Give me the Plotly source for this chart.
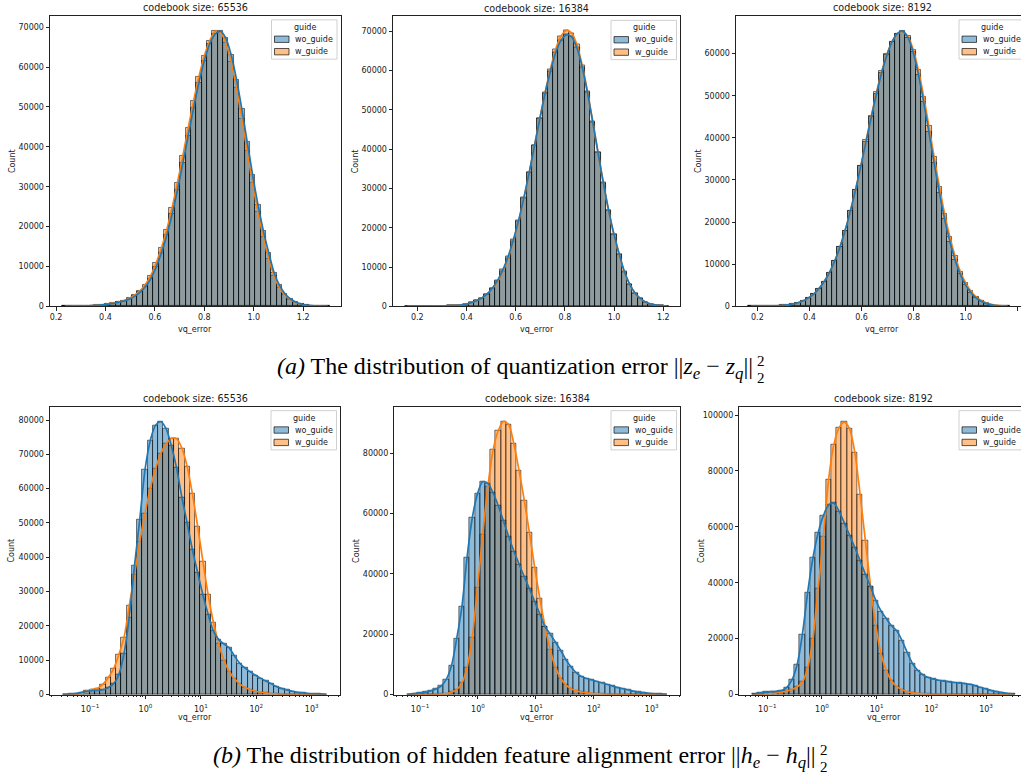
import numpy as np
import plotly.graph_objects as go

W, H = 1021, 778

# ---------------- data ----------------
panel_titles = ["codebook size: 65536", "codebook size: 16384", "codebook size: 8192",
                "codebook size: 65536", "codebook size: 16384", "codebook size: 8192"]
series_names = ["wo_guide", "w_guide"]
legend_title = "guide"
x_label = "vq_error"
y_label = "Count"
caption_a = "<i>(a)</i> The distribution of quantization error ||<i>z</i><sub><i>e</i></sub> − <i>z</i><sub><i>q</i></sub>||"
caption_b = "<i>(b)</i> The distribution of hidden feature alignment error ||<i>h</i><sub><i>e</i></sub> − <i>h</i><sub><i>q</i></sub>||"
norm_marks = ["2", "2"]

n_bins = 50
# top row: bin range of vq_error; bottom row: bin range of log10(vq_error)
t1_bins = [0.225, 1.31]
t2_bins = [0.15, 1.225]
t3_bins = [0.165, 1.17]
b1_bins = [-1.48, 3.27]
b2_bins = [-1.22, 3.27]
b3_bins = [-1.27, 3.53]

t1_wo = [8, 15, 30, 50, 90, 150, 230, 350, 500, 700,
         1000, 1300, 1800, 2500, 3500, 4900, 6900, 9800, 13400, 17800,
         23100, 29200, 35900, 42800, 49700, 56100, 61600, 65800, 68300, 69000,
         67300, 63100, 56900, 49400, 41200, 33000, 25500, 19000, 13500, 8500,
         5300, 3200, 1900, 1100, 600, 300, 150, 70, 30, 10]
t1_w = [10, 19, 36, 61, 107, 172, 264, 392, 556, 784,
        1084, 1440, 2000, 2780, 3890, 5460, 7710, 10810, 14630, 19280,
        24810, 31080, 37830, 44730, 51490, 57640, 62780, 66500, 69000, 68700,
        66120, 61360, 54800, 47100, 38900, 30900, 23700, 17460, 11960, 7600,
        4710, 2840, 1680, 960, 516, 258, 128, 59, 24, 8]

t2_wo = [2, 3, 5, 8, 15, 25, 40, 70, 120, 200,
         330, 550, 900, 1400, 2100, 3100, 4600, 6600, 9300, 12700,
         17000, 22000, 27800, 34200, 41000, 47800, 54300, 59900, 64600, 67700,
         69100, 68600, 65800, 60900, 54400, 46900, 39100, 31500, 24500, 18400,
         13300, 8800, 5600, 3400, 2000, 1100, 600, 300, 120, 50]
t2_w = [2, 3, 5, 8, 15, 25, 40, 70, 120, 200,
        330, 550, 900, 1400, 2100, 3100, 4500, 6300, 8900, 12300,
        16600, 21700, 27600, 34100, 41000, 47900, 54500, 60400, 65500, 68800,
        70200, 69600, 66600, 61400, 54700, 47000, 39100, 31400, 24300, 18200,
        13100, 8600, 5500, 3300, 1900, 1050, 570, 280, 110, 45]

t3_wo = [6, 12, 25, 45, 80, 130, 220, 350, 550, 850,
         1300, 2000, 2900, 4200, 5900, 8000, 10700, 14000, 18000, 22600,
         27700, 33300, 39100, 44900, 50500, 55500, 59700, 62900, 64800, 65300,
         63800, 60300, 55000, 48500, 41300, 34000, 27000, 20700, 15400, 11000,
         7600, 5100, 3300, 2000, 1200, 650, 350, 170, 80, 30]
t3_w = [6, 12, 25, 45, 80, 130, 220, 350, 550, 850,
        1300, 2000, 2900, 4200, 5900, 8000, 10700, 14000, 18000, 22600,
        27700, 33300, 39400, 45200, 50800, 55800, 59900, 62900, 64700, 65200,
        64100, 61000, 56060, 49800, 42740, 35460, 28400, 21960, 16460, 11880,
        8280, 5600, 3660, 2260, 1360, 760, 410, 206, 98, 40]

b1_wo = [50, 150, 350, 600, 950, 1150, 1200, 1400, 2000, 3100,
         5700, 11800, 22500, 37500, 51000, 65500, 74000, 78500, 79500, 77500,
         72500, 66000, 57500, 50000, 42200, 35500, 29000, 23300, 18500, 16000,
         14700, 13600, 11200, 9100, 7700, 6600, 5600, 4700, 3900, 3100,
         2300, 1700, 1300, 950, 650, 450, 300, 200, 120, 60]
b1_w = [0, 0, 0, 300, 1000, 1500, 1800, 3000, 4900, 7400,
        11500, 16500, 25800, 35000, 44500, 52800, 60000, 65800, 70200, 73000,
        74700, 74500, 71800, 66500, 58500, 49000, 38800, 29000, 21000, 14800,
        10000, 6700, 4600, 3100, 2100, 1400, 950, 650, 400, 250,
        150, 90, 50, 30, 15, 8, 4, 2, 1, 0]

b2_wo = [100, 300, 550, 800, 1200, 1800, 2800, 5000, 9500, 18500,
         29000, 45500, 58500, 66500, 70500, 70000, 66800, 62500, 57500, 52300,
         47500, 43200, 39000, 35000, 30800, 26600, 22400, 20000, 17300, 14600,
         11500, 9100, 7200, 6000, 5300, 4800, 4300, 3800, 3300, 2800,
         2300, 1900, 1500, 1100, 800, 600, 400, 250, 130, 60]
b2_w = [0, 0, 0, 0, 0, 50, 120, 300, 800, 1600,
        3800, 9000, 19000, 35500, 53000, 69000, 81000, 87500, 90500, 89500,
        83000, 74200, 64300, 53500, 42100, 31700, 22500, 14800, 9000, 5400,
        3200, 1900, 1200, 800, 550, 350, 230, 150, 90, 60,
        35, 20, 10, 5, 0, 0, 0, 0, 0, 0]

b3_wo = [250, 600, 850, 1000, 1150, 1400, 2500, 5200, 10700, 21500,
         36500, 48800, 57800, 64000, 67800, 68500, 65500, 61300, 57000, 52500,
         47800, 43000, 38500, 33600, 29800, 27100, 24500, 22700, 19200, 14900,
         11000, 8600, 7000, 6100, 5500, 5100, 4800, 4500, 4300, 4100,
         3900, 3600, 3100, 2500, 2000, 1400, 1000, 700, 400, 200]
b3_w = [0, 50, 150, 300, 550, 800, 1200, 1800, 2700, 4500,
        9500, 20000, 38000, 56500, 77000, 89500, 95500, 97500, 95000, 86500,
        71500, 55000, 38500, 24500, 14500, 8500, 4800, 2800, 1700, 1000,
        600, 380, 220, 130, 70, 40, 20, 10, 0, 0,
        0, 0, 0, 0, 0, 0, 0, 0, 0, 0]

top_ticks = [0.2, 0.4, 0.6, 0.8, 1.0, 1.2]
log_tick_exps = [-1, 0, 1, 2, 3]
log_tick_labels = ["10<sup>−1</sup>", "10<sup>0</sup>", "10<sup>1</sup>", "10<sup>2</sup>", "10<sup>3</sup>"]

# ---------------- layout geometry (pixels) ----------------
# left, right(visible), right(axes, may be off-page), top, bottom
geom = [
    (50, 340.5, 340.5, 16, 308.3),
    (393, 680, 680, 16.5, 308.3),
    (736, 1021, 1028, 16, 308.3),
    (50, 340, 340, 409.3, 699),
    (394.3, 680, 680, 409.3, 699),
    (739.3, 1021, 1028, 409.3, 699),
]
x_ranges = [[0.1757, 1.351], [0.101, 1.268], [0.118, 1.212],
            [-1.722, 3.511], [-1.444, 3.489], [-1.512, 3.64]]
y_ranges = [[0, 72850], [0, 73800], [0, 68960], [0, 83900], [0, 95400], [0, 103000]]
y_dticks = [10000, 10000, 10000, 10000, 20000, 20000]

panels = [
    (t1_bins, t1_wo, t1_w), (t2_bins, t2_wo, t2_w), (t3_bins, t3_wo, t3_w),
    (b1_bins, b1_wo, b1_w), (b2_bins, b2_wo, b2_w), (b3_bins, b3_wo, b3_w),
]

BLUE = "#1f77b4"
ORANGE = "#ff7f0e"
BLUE_FILL = "rgba(31,119,180,0.5)"
ORANGE_FILL = "rgba(255,127,14,0.5)"
EDGE = "rgba(0,0,0,0.6)"
TXT = "#1a1a1a"
SANS = "DejaVu Sans"
SERIF = "Liberation Serif"


def px_x(p):
    return p / W


def px_y(p):
    return 1 - p / H


fig = go.Figure()
layout = dict(
    width=W, height=H, margin=dict(l=0, r=0, t=0, b=0),
    paper_bgcolor="white", plot_bgcolor="white",
    barmode="overlay", bargap=0, showlegend=False,
    font=dict(family=SANS, size=8, color=TXT),
)
annotations = []
shapes = []

minor_log = [float(np.log10(m * 10.0 ** e)) for e in range(-2, 4) for m in range(2, 10)]

for i, ((bins, wo, w), (L, Rv, Ra, T, B)) in enumerate(zip(panels, geom)):
    n = i + 1
    xa = "x" if n == 1 else f"x{n}"
    ya = "y" if n == 1 else f"y{n}"
    edges = np.linspace(bins[0], bins[1], n_bins + 1)
    centers = (edges[:-1] + edges[1:]) / 2
    bw = edges[1] - edges[0]

    # orange first, blue drawn on top (seaborn layering)
    fig.add_trace(go.Bar(x=centers, y=w, width=bw, name=series_names[1],
                         marker=dict(color=ORANGE_FILL, line=dict(color=EDGE, width=0.9)),
                         xaxis=xa, yaxis=ya))
    fig.add_trace(go.Bar(x=centers, y=wo, width=bw, name=series_names[0],
                         marker=dict(color=BLUE_FILL, line=dict(color=EDGE, width=0.9)),
                         xaxis=xa, yaxis=ya))
    fig.add_trace(go.Scatter(x=centers, y=w, mode="lines", name=series_names[1],
                             line=dict(color=ORANGE, width=1.7, shape="spline", smoothing=0.8),
                             xaxis=xa, yaxis=ya, hoverinfo="skip"))
    fig.add_trace(go.Scatter(x=centers, y=wo, mode="lines", name=series_names[0],
                             line=dict(color=BLUE, width=1.7, shape="spline", smoothing=0.8),
                             xaxis=xa, yaxis=ya, hoverinfo="skip"))

    full_right = Rv >= W
    xax = dict(domain=[px_x(L), px_x(Rv)], anchor=ya, range=x_ranges[i],
               showline=True, mirror=True, linecolor="#222", linewidth=0.9,
               ticks="outside", ticklen=3.5, tickwidth=0.8, tickcolor="#222",
               showgrid=False, zeroline=False,
               tickfont=dict(family=SANS, size=8, color=TXT))
    if i < 3:
        xax.update(tickmode="array", tickvals=top_ticks,
                   ticktext=[f"{v:.1f}" for v in top_ticks])
    else:
        xax.update(tickmode="array", tickvals=log_tick_exps, ticktext=log_tick_labels,
                   ticklabelstandoff=3,
                   minor=dict(tickmode="array",
                              tickvals=[v for v in minor_log if x_ranges[i][0] < v < x_ranges[i][1]],
                              ticks="outside", ticklen=2, tickwidth=0.6, tickcolor="#222"))
    yax = dict(domain=[px_y(B), px_y(T)], anchor=xa, range=y_ranges[i],
               showline=True, mirror=(not full_right), linecolor="#222", linewidth=0.9,
               ticks="outside", ticklen=3.5, tickwidth=0.8, tickcolor="#222",
               showgrid=False, zeroline=False, tick0=0, dtick=y_dticks[i],
               tickformat="d", tickfont=dict(family=SANS, size=8, color=TXT))
    layout["xaxis" if n == 1 else f"xaxis{n}"] = xax
    layout["yaxis" if n == 1 else f"yaxis{n}"] = yax

    cx = (L + Ra) / 2
    # title
    annotations.append(dict(text=panel_titles[i], x=px_x(cx), y=px_y(T - 8), xref="paper", yref="paper",
                            showarrow=False, xanchor="center", yanchor="middle",
                            font=dict(family=SANS, size=9.6, color=TXT)))
    # x label
    annotations.append(dict(text=x_label, x=px_x(cx), y=px_y(B + 23.5), xref="paper", yref="paper",
                            showarrow=False, xanchor="center", yanchor="middle",
                            font=dict(family=SANS, size=8, color=TXT)))
    # y label
    annotations.append(dict(text=y_label, x=px_x(L - 38), y=px_y((T + B) / 2), xref="paper", yref="paper",
                            showarrow=False, xanchor="center", yanchor="middle", textangle=-90,
                            font=dict(family=SANS, size=8, color=TXT)))
    # legend
    shapes.append(dict(type="rect", xref="paper", yref="paper",
                       x0=px_x(Ra - 69), x1=px_x(Ra - 3.5), y0=px_y(T + 43.5), y1=px_y(T + 4),
                       line=dict(color="#d0d0d0", width=1), fillcolor="rgba(255,255,255,0.8)"))
    annotations.append(dict(text=legend_title, x=px_x(Ra - 36), y=px_y(T + 11.5), xref="paper", yref="paper",
                            showarrow=False, xanchor="center", yanchor="middle",
                            font=dict(family=SANS, size=8, color=TXT)))
    for j, (fill, lab) in enumerate([(BLUE_FILL, series_names[0]), (ORANGE_FILL, series_names[1])]):
        ty = T + 23.5 + j * 12.5
        shapes.append(dict(type="rect", xref="paper", yref="paper",
                           x0=px_x(Ra - 66), x1=px_x(Ra - 51.5), y0=px_y(ty + 3.2), y1=px_y(ty - 3.2),
                           line=dict(color="rgba(0,0,0,0.65)", width=1), fillcolor=fill))
        annotations.append(dict(text=lab, x=px_x(Ra - 47.5), y=px_y(ty), xref="paper", yref="paper",
                                showarrow=False, xanchor="left", yanchor="middle",
                                font=dict(family=SANS, size=8, color=TXT)))

# captions: (text, right end of the norm bars, text middle)
for text, xr, yc in [(caption_a, 755, 370), (caption_b, 818, 762)]:
    annotations.append(dict(text=text, x=px_x(xr), y=px_y(yc), xref="paper", yref="paper",
                            showarrow=False, xanchor="right", yanchor="middle",
                            font=dict(family=SERIF, size=24, color="black")))
    annotations.append(dict(text=norm_marks[0], x=px_x(xr), y=px_y(yc - 7), xref="paper", yref="paper",
                            showarrow=False, xanchor="left", yanchor="middle",
                            font=dict(family=SERIF, size=15, color="black")))
    annotations.append(dict(text=norm_marks[1], x=px_x(xr), y=px_y(yc + 10), xref="paper", yref="paper",
                            showarrow=False, xanchor="left", yanchor="middle",
                            font=dict(family=SERIF, size=15, color="black")))

layout["annotations"] = annotations
layout["shapes"] = shapes
fig.update_layout(**layout)
fig.write_html("out.html")
